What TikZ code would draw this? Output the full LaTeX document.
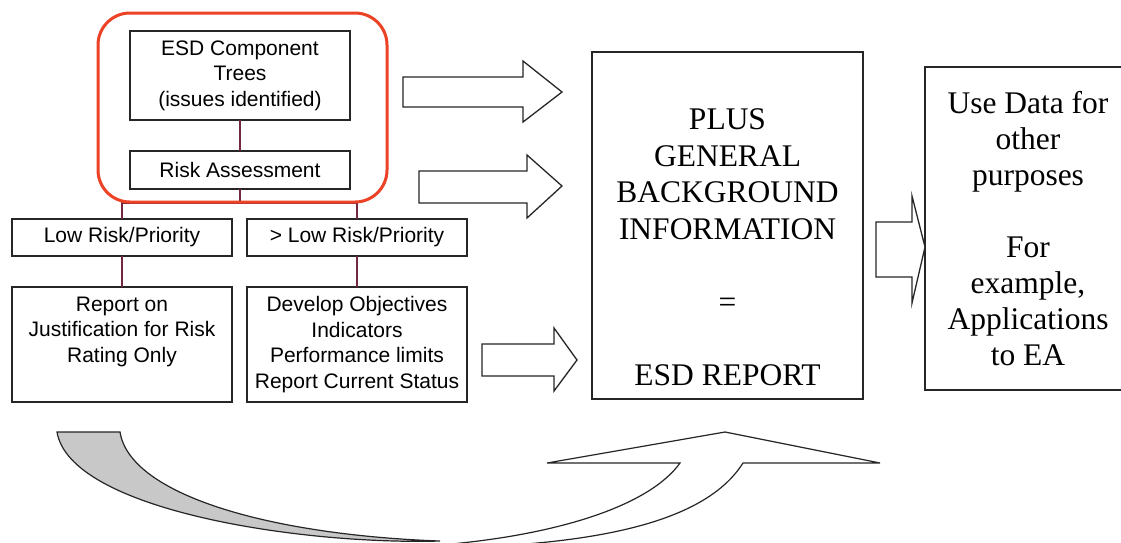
\documentclass[tikz,border=0pt]{standalone}
\usepackage{fontspec}
\setmainfont{Liberation Sans}
\newfontfamily\tnr{Liberation Serif}
\definecolor{conn}{RGB}{115,40,65}
\definecolor{hilite}{RGB}{236,66,38}
\definecolor{tailgrey}{RGB}{200,200,200}
\begin{document}
\begin{tikzpicture}[x=1pt,y=-1pt,
  box/.style={draw=black!85, line width=1.4pt, inner sep=0pt, outer sep=0pt, align=center, font=\fontsize{21}{25.5}\selectfont},
  plaintext/.style={inner sep=0pt, outer sep=0pt, align=center},
  link/.style={draw=conn, line width=1.3pt},
  blockarrow/.style={draw=black!85, line width=1.3pt, fill=white, line join=miter},
  curvearrow/.style={draw=black!85, line width=1.2pt},
  ]
\fill[white] (0,0) rectangle (1121,542);
\useasboundingbox (0,0) rectangle (1121,542);
\clip (0,0) rectangle (1121,542);

% left tree
\node[box, minimum width=220pt, minimum height=89pt] (comp) at (240,75.5) {ESD Component\\Trees\\(issues identified)};
\node[box, minimum width=220pt, minimum height=38pt] (risk) at (240,170) {Risk Assessment};
\node[box, minimum width=220pt, minimum height=37pt] (low) at (122,237.5) {Low Risk/Priority};
\node[box, minimum width=220pt, minimum height=37pt] (high) at (357,237.5) {> Low Risk/Priority};
\node[box, minimum width=220pt, minimum height=115pt] (rep) at (122,344.5) {};
\node[plaintext, anchor=north, font=\fontsize{21}{25.5}\selectfont] (reptxt) at ([yshift=-10pt]rep.north) {Report on\\Justification for Risk\\Rating Only};
\node[box, minimum width=220pt, minimum height=115pt] (dev) at (357,344.5) {Develop Objectives\\Indicators\\Performance limits\\Report Current Status};

% connectors
\path (risk.south) ++(0,14) coordinate (junc);
\draw[link] (comp.south) -- (risk.north);
\draw[link] (risk.south) -- (junc);
\draw[link] (low.north) -- (low.north |- junc) -- (high.north |- junc) -- (high.north);
\draw[link] (low.south) -- (rep.north);
\draw[link] (high.south) -- (dev.north);

% highlight frame
\node[draw=hilite, line width=3pt, rounded corners=32pt, minimum width=289pt, minimum height=189pt, inner sep=0pt] (frame) at (242.5,107.5) {};

% report boxes
\node[box, minimum width=271pt, minimum height=347pt] (esd) at (727.5,225.5) {};
\node[plaintext, anchor=north, font=\tnr\fontsize{31.5}{36.5}\selectfont] (esdtxt) at ([yshift=-57pt]esd.north) {PLUS\\GENERAL\\BACKGROUND\\INFORMATION\\[36.5pt]=\\[36.5pt]ESD REPORT};
\node[box, font=\tnr\fontsize{31.5}{36}\selectfont, minimum width=206pt, minimum height=323pt] (use) at (1028,228.5) {Use Data for\\other\\purposes\\[36pt]For\\example,\\Applications\\to EA};

% block arrows
\draw[blockarrow] (403,77) -- (523,77) -- (523,61) -- (562,92) -- (523,122) -- (523,107) -- (403,107) -- cycle;
\draw[blockarrow] (419,171) -- (527,171) -- (527,155) -- (562,186) -- (527,218) -- (527,203) -- (419,203) -- cycle;
\draw[blockarrow] (482,344) -- (554,344) -- (554,328) -- (577,360) -- (554,391) -- (554,376) -- (482,376) -- cycle;
\draw[blockarrow] (876,222) -- (912,222) -- (912,196) -- (925,247) -- (912,303) -- (912,277) -- (876,277) -- cycle;

% curved arrow at the bottom
\filldraw[curvearrow, fill=tailgrey] (57,432) -- (120,432) .. controls (130,495) and (270,535) .. (440,541) .. controls (300,545) and (70,510) .. (57,432) -- cycle;
\filldraw[curvearrow, fill=white] (743,463) .. controls (710,515) and (620,545) .. (440,548) -- (440,545) .. controls (560,535) and (650,505) .. (680,463) -- (547,463) -- (725,432) -- (880,463) -- cycle;
\end{tikzpicture}
\end{document}
